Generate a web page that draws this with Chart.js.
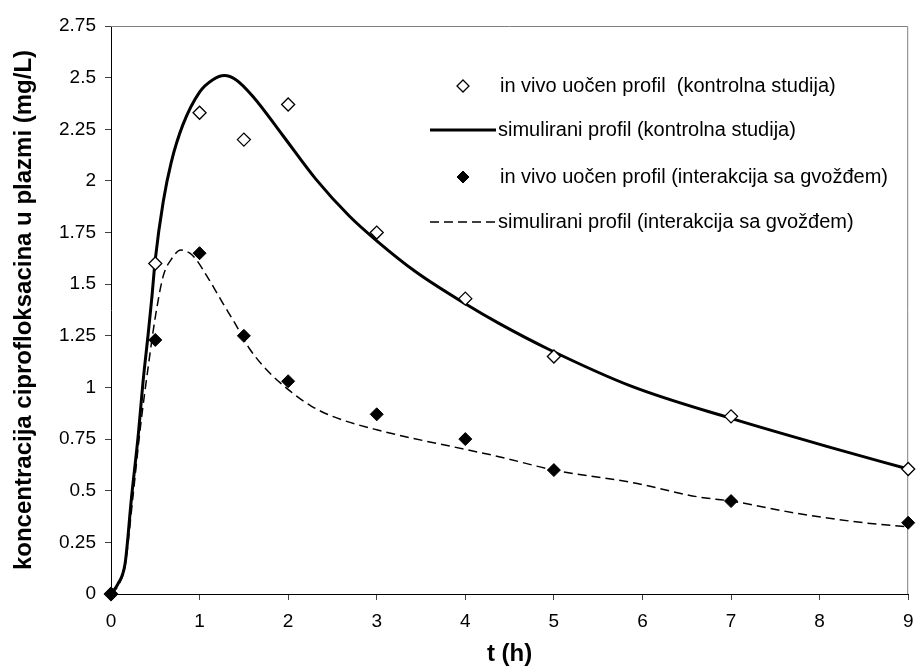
<!DOCTYPE html>
<html>
<head>
<meta charset="utf-8">
<style>
html,body{margin:0;padding:0;background:#fff;}
#wrap{width:916px;height:668px;position:relative;}
</style>
<script src="https://cdn.jsdelivr.net/npm/chart.js@4.4.1/dist/chart.umd.min.js"></script>
</head>
<body>
<div id="wrap"><canvas id="c" width="916" height="668"></canvas></div>
<script>
// ---- data ----
const obsTimes = [0, 0.5, 1, 1.5, 2, 3, 4, 5, 7, 9];
const obsControl = [0, 1.60, 2.33, 2.20, 2.37, 1.75, 1.43, 1.15, 0.86, 0.605];
const obsIron = [0, 1.23, 1.65, 1.25, 1.03, 0.87, 0.75, 0.60, 0.45, 0.345];

const simControlT = [0, 0.08, 0.16, 0.23, 0.31, 0.36, 0.42, 0.46, 0.5, 0.59, 0.68, 0.81, 1.0, 1.15, 1.28, 1.41, 1.6, 1.94, 2.31, 2.69, 3.0, 3.44, 4.0, 4.38, 4.94, 5.88, 7.0, 8.12, 9.0];
const simControlC = [0, 0.05, 0.15, 0.46, 0.78, 1.02, 1.26, 1.43, 1.62, 1.90, 2.09, 2.27, 2.43, 2.49, 2.51, 2.49, 2.41, 2.22, 2.01, 1.83, 1.71, 1.56, 1.405, 1.31, 1.185, 1.005, 0.85, 0.71, 0.605];

const simIronT = [0, 0.08, 0.16, 0.25, 0.33, 0.42, 0.5, 0.59, 0.68, 0.79, 0.89, 0.96, 1.11, 1.26, 1.4, 1.56, 1.77, 2.03, 2.26, 2.5, 3.0, 4.0, 4.38, 5.0, 5.88, 6.63, 7.0, 7.75, 8.5, 9.0];
const simIronC = [0, 0.04, 0.14, 0.48, 0.80, 1.10, 1.34, 1.54, 1.62, 1.665, 1.65, 1.62, 1.52, 1.41, 1.31, 1.19, 1.08, 0.98, 0.91, 0.86, 0.795, 0.70, 0.665, 0.60, 0.54, 0.47, 0.45, 0.39, 0.345, 0.325];

const seriesLabels = [
  'in vivo uočen profil  (kontrolna studija)',
  'simulirani profil (kontrolna studija)',
  'in vivo uočen profil (interakcija sa gvožđem)',
  'simulirani profil (interakcija sa gvožđem)'
];
const xTickValues = [0, 1, 2, 3, 4, 5, 6, 7, 8, 9];
const yTickValues = [0, 0.25, 0.5, 0.75, 1, 1.25, 1.5, 1.75, 2, 2.25, 2.5, 2.75];
const xTitle = 't (h)';
const yTitle = 'koncentracija ciprofloksacina u plazmi (mg/L)';

// ---- chart ----
const pts = (xs, ys) => xs.map((x, i) => ({x: x, y: ys[i]}));
const FONT = "'Liberation Sans', Arial, sans-serif";

const frameLines = {
  id: 'frameLines',
  beforeDatasetsDraw(chart) {
    const {ctx, chartArea: a} = chart;
    ctx.save();
    ctx.strokeStyle = '#808080';
    ctx.lineWidth = 1;
    ctx.beginPath();
    ctx.moveTo(a.left, a.top + 0.5);
    ctx.lineTo(a.right - 0.5, a.top + 0.5);
    ctx.lineTo(a.right - 0.5, a.bottom);
    ctx.stroke();
    ctx.restore();
  }
};

const innerLegend = {
  id: 'innerLegend',
  afterDraw(chart) {
    const ctx = chart.ctx;
    const ds = chart.data.datasets;
    const rows = [
      {d: ds[2], y: 86},
      {d: ds[0], y: 130},
      {d: ds[3], y: 177},
      {d: ds[1], y: 222}
    ];
    ctx.save();
    ctx.font = "20px " + FONT;
    ctx.fillStyle = '#000';
    ctx.textBaseline = 'middle';
    ctx.textAlign = 'left';
    rows.forEach(r => {
      const d = r.d;
      if (d.showLine === false) {
        const cx = 463, cy = r.y, rr = 6;
        ctx.beginPath();
        ctx.moveTo(cx, cy - rr);
        ctx.lineTo(cx + rr, cy);
        ctx.lineTo(cx, cy + rr);
        ctx.lineTo(cx - rr, cy);
        ctx.closePath();
        ctx.fillStyle = d.pointBackgroundColor;
        ctx.fill();
        ctx.lineWidth = d.pointBorderWidth;
        ctx.strokeStyle = '#000';
        ctx.stroke();
        ctx.fillStyle = '#000';
        ctx.fillText(d.label, 500, r.y);
      } else {
        ctx.beginPath();
        ctx.setLineDash(d.borderDash || []);
        ctx.lineWidth = d.borderWidth;
        ctx.strokeStyle = '#000';
        ctx.moveTo(430, r.y);
        ctx.lineTo(496, r.y);
        ctx.stroke();
        ctx.setLineDash([]);
        ctx.fillText(d.label, 498, r.y);
      }
    });
    ctx.restore();
  }
};

new Chart(document.getElementById('c'), {
  type: 'line',
  data: {
    datasets: [
      {
        label: seriesLabels[1],
        data: pts(simControlT, simControlC),
        borderColor: '#000',
        borderWidth: 3,
        pointRadius: 0,
        cubicInterpolationMode: 'monotone',
        fill: false,
        clip: false,
        order: 2
      },
      {
        label: seriesLabels[3],
        data: pts(simIronT, simIronC),
        borderColor: '#000',
        borderWidth: 1.5,
        borderDash: [9, 5],
        pointRadius: 0,
        cubicInterpolationMode: 'monotone',
        fill: false,
        clip: false,
        order: 3
      },
      {
        label: seriesLabels[0],
        data: pts(obsTimes, obsControl),
        showLine: false,
        pointStyle: 'rectRot',
        pointRadius: 6.5,
        pointBackgroundColor: '#fff',
        pointBorderColor: '#000',
        pointBorderWidth: 1.3,
        clip: false,
        order: 1
      },
      {
        label: seriesLabels[2],
        data: pts(obsTimes, obsIron),
        showLine: false,
        pointStyle: 'rectRot',
        pointRadius: 6.5,
        pointBackgroundColor: '#000',
        pointBorderColor: '#000',
        pointBorderWidth: 1,
        clip: false,
        order: 0
      }
    ]
  },
  options: {
    responsive: false,
    devicePixelRatio: 1,
    animation: false,
    events: [],
    layout: {padding: {top: 26, right: 5, bottom: 0, left: 0}},
    plugins: {legend: {display: false}, tooltip: {enabled: false}},
    scales: {
      x: {
        type: 'linear',
        min: 0, max: 9,
        afterBuildTicks: s => { s.ticks = xTickValues.map(v => ({value: v})); },
        afterFit: s => { s.height = 74; s.paddingLeft = 0; s.paddingRight = 0; },
        ticks: {
          font: {family: FONT, size: 19}, color: '#000', padding: 10,
          maxRotation: 0, autoSkip: false, callback: v => String(v)
        },
        grid: {drawOnChartArea: false, drawTicks: true, tickLength: 6, color: '#404040'},
        border: {display: true, color: '#000', width: 1},
        title: {
          display: true, text: xTitle, color: '#000',
          font: {family: FONT, size: 24, weight: 'bold'},
          padding: {top: 0, bottom: -1}
        }
      },
      y: {
        type: 'linear',
        min: 0, max: 2.75,
        afterBuildTicks: s => { s.ticks = yTickValues.map(v => ({value: v})); },
        afterFit: s => { s.width = 111; s.paddingTop = 0; s.paddingBottom = 0; },
        ticks: {
          font: {family: FONT, size: 19}, color: '#000', padding: 9,
          autoSkip: false, callback: v => String(v)
        },
        grid: {drawOnChartArea: false, drawTicks: true, tickLength: 6, color: '#404040'},
        border: {display: true, color: '#000', width: 1},
        title: {
          display: true, text: yTitle, color: '#000',
          font: {family: FONT, size: 24, weight: 'bold'},
          padding: {top: 10, bottom: 0}
        }
      }
    }
  },
  plugins: [frameLines, innerLegend]
});
</script>
</body>
</html>
